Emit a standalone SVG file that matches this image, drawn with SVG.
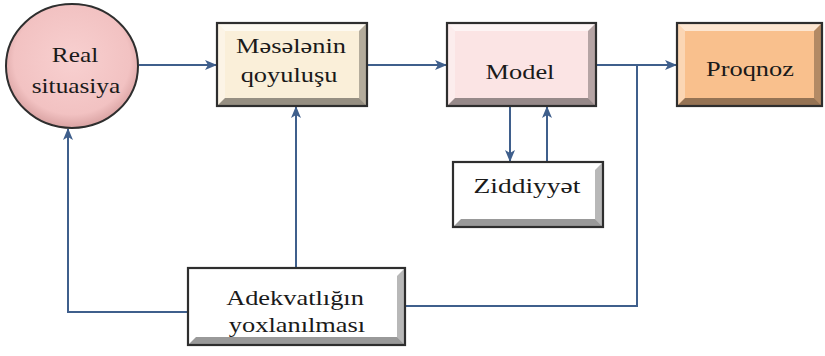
<svg xmlns="http://www.w3.org/2000/svg" width="825" height="356" viewBox="0 0 825 356">
  <defs>
    <radialGradient id="ballFill" cx="0.5" cy="0.45" r="0.55">
      <stop offset="0" stop-color="#f8d0d0"/>
      <stop offset="0.8" stop-color="#f2c2c2"/>
      <stop offset="1" stop-color="#d9a2a2"/>
    </radialGradient>
    <marker id="arr" markerUnits="userSpaceOnUse" markerWidth="12" markerHeight="10" refX="11" refY="5" orient="auto">
      <path d="M0,0 L12,5 L0,10 L3,5 Z" fill="#3f5f8c"/>
    </marker>
    <style>
      .frame { fill: none; stroke: #2e2e2e; stroke-width: 2.2; }
      .bt { fill: #ffffff; opacity: 0.6; }
      .bl { fill: #ffffff; opacity: 0.35; }
      .br { fill: #000000; opacity: 0.28; }
      .bb { fill: #000000; opacity: 0.4; }
      .wire { fill: none; stroke: #3f5f8c; stroke-width: 2; }
    </style>
  </defs>

  <!-- connectors -->
  <g id="connectors">
    <path class="wire" d="M139,65 H216" marker-end="url(#arr)"/>
    <path class="wire" d="M367,65 H446" marker-end="url(#arr)"/>
    <path class="wire" d="M596,65 H676" marker-end="url(#arr)"/>
    <path class="wire" d="M637,65 V306 H405"/>
    <path class="wire" d="M188,312 H68 V129" marker-end="url(#arr)"/>
    <path class="wire" d="M296,268 V107" marker-end="url(#arr)"/>
    <path class="wire" d="M510,106 V161" marker-end="url(#arr)"/>
    <path class="wire" d="M547,162 V107" marker-end="url(#arr)"/>
  </g>

  <g font-family="Liberation Serif, Times New Roman, serif" font-size="22" fill="#1a1a1a" text-anchor="middle">
  <!-- Real situasiya -->
  <g id="real-situasiya">
    <ellipse cx="72" cy="66" rx="66" ry="62" fill="url(#ballFill)" stroke="#2e2e2e" stroke-width="2"/>
    <text transform="translate(75 62) scale(1.15 1)">Real</text>
    <text transform="translate(76 93) scale(1.15 1)">situasiya</text>
  </g>

  <!-- Məsələnin qoyuluşu -->
  <g id="meselenin-qoyulusu">
    <rect x="217" y="23" width="150" height="83" fill="#faefd9"/>
    <polygon class="bt" points="217,23 367,23 359,31 225,31"/>
    <polygon class="bl" points="217,23 225,31 225,98 217,106"/>
    <polygon class="br" points="367,23 367,106 359,98 359,31"/>
    <polygon class="bb" points="217,106 225,98 359,98 367,106"/>
    <rect class="frame" x="217" y="23" width="150" height="83"/>
    <text transform="translate(291 53) scale(1.2 1)">Məsələnin</text>
    <text transform="translate(289 82) scale(1.2 1)">qoyuluşu</text>
  </g>

  <!-- Model -->
  <g id="model">
    <rect x="447" y="23" width="149" height="83" fill="#fbe4e4"/>
    <polygon class="bt" points="447,23 596,23 588,31 455,31"/>
    <polygon class="bl" points="447,23 455,31 455,98 447,106"/>
    <polygon class="br" points="596,23 596,106 588,98 588,31"/>
    <polygon class="bb" points="447,106 455,98 588,98 596,106"/>
    <rect class="frame" x="447" y="23" width="149" height="83"/>
    <text transform="translate(520 79) scale(1.2 1)">Model</text>
  </g>

  <!-- Proqnoz -->
  <g id="proqnoz">
    <rect x="677" y="23" width="145" height="83" fill="#f9c08d"/>
    <polygon class="bt" points="677,23 822,23 814,31 685,31"/>
    <polygon class="bl" points="677,23 685,31 685,98 677,106"/>
    <polygon class="br" points="822,23 822,106 814,98 814,31"/>
    <polygon class="bb" points="677,106 685,98 814,98 822,106"/>
    <rect class="frame" x="677" y="23" width="145" height="83"/>
    <text transform="translate(750 76) scale(1.2 1)">Proqnoz</text>
  </g>

  <!-- Ziddiyyət -->
  <g id="ziddiyyet">
    <rect x="453" y="162" width="150" height="65" fill="#ffffff"/>
    <polygon class="bt" points="453,162 603,162 595,170 461,170"/>
    <polygon class="bl" points="453,162 461,170 461,219 453,227"/>
    <polygon class="br" points="603,162 603,227 595,219 595,170"/>
    <polygon class="bb" points="453,227 461,219 595,219 603,227"/>
    <rect class="frame" x="453" y="162" width="150" height="65"/>
    <text transform="translate(527 193) scale(1.25 1)">Ziddiyyət</text>
  </g>

  <!-- Adekvatlığın yoxlanılması -->
  <g id="adekvatligin-yoxlanilmasi">
    <rect x="188" y="268" width="217" height="77" fill="#ffffff"/>
    <polygon class="bt" points="188,268 405,268 397,276 196,276"/>
    <polygon class="bl" points="188,268 196,276 196,337 188,345"/>
    <polygon class="br" points="405,268 405,345 397,337 397,276"/>
    <polygon class="bb" points="188,345 196,337 397,337 405,345"/>
    <rect class="frame" x="188" y="268" width="217" height="77"/>
    <text transform="translate(295 305) scale(1.2 1)">Adekvatlığın</text>
    <text transform="translate(297 332) scale(1.2 1)">yoxlanılması</text>
  </g>
  </g>
</svg>
